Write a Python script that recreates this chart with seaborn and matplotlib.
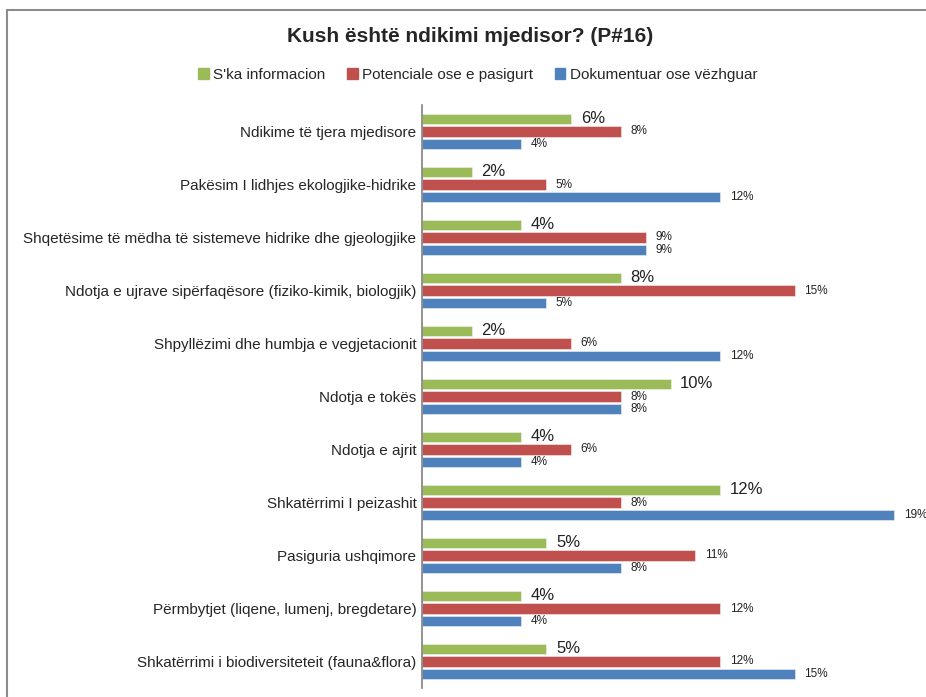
"""Grouped horizontal bars: environmental impact types (P#16)."""

import matplotlib.pyplot as plt
import pandas as pd
import seaborn as sns
from matplotlib.patches import Rectangle

CATEGORIES = [
    "Ndikime të tjera mjedisore",
    "Pakësim I lidhjes ekologjike-hidrike",
    "Shqetësime të mëdha të sistemeve hidrike dhe gjeologjike",
    "Ndotja e ujrave sipërfaqësore (fiziko-kimik, biologjik)",
    "Shpyllëzimi dhe humbja e vegjetacionit",
    "Ndotja e tokës",
    "Ndotja e ajrit",
    "Shkatërrimi I peizashit",
    "Pasiguria ushqimore",
    "Përmbytjet (liqene, lumenj, bregdetare)",
    "Shkatërrimi i biodiversiteteit (fauna&flora)",
]
SERIES = ["S'ka informacion", "Potenciale ose e pasigurt", "Dokumentuar ose vëzhguar"]
NO_INFO = [6, 2, 4, 8, 2, 10, 4, 12, 5, 4, 5]
POTENTIAL = [8, 5, 9, 15, 6, 8, 6, 8, 11, 12, 12]
DOCUMENTED = [4, 12, 9, 5, 12, 8, 4, 19, 8, 4, 15]
COLORS = ["#9BBB59", "#C0504D", "#4F81BD"]

sns.set_theme(style="white")
plt.rcParams["font.family"] = ["Liberation Sans", "DejaVu Sans"]

df = pd.DataFrame({
    "category": CATEGORIES * 3,
    "series": [s for s in SERIES for _ in CATEGORIES],
    "value": NO_INFO + POTENTIAL + DOCUMENTED,
})

fig = plt.figure(figsize=(9.26, 6.97), dpi=100)
ax = fig.add_axes([422 / 926, 1 - 688 / 697, 497 / 926, 583 / 697])

sns.barplot(data=df, y="category", x="value", hue="series", hue_order=SERIES,
            palette=COLORS, saturation=1, orient="h", width=0.72, gap=0.18, ax=ax,
            edgecolor="#f2f2f2", linewidth=0.4, legend=False)

ax.set_xlim(0, 20)
ax.set_ylim(10.5, -0.5)
ax.set_xlabel("")
ax.set_ylabel("")
ax.set_xticks([])
ax.tick_params(axis="y", length=0, pad=4, labelsize=11)
for side in ["top", "right", "bottom"]:
    ax.spines[side].set_visible(False)
ax.spines["left"].set_color("#808080")
ax.spines["left"].set_linewidth(1.2)

for i, cont in enumerate(ax.containers):
    size = 12 if i == 0 else 8.5
    labels = [f"{v:.0f}%" for v in cont.datavalues]
    ax.bar_label(cont, labels=labels, padding=7, fontsize=size, color="#222222")

handles = [Rectangle((0, 0), 1, 1, color=c) for c in COLORS]
fig.legend(handles, SERIES, loc="center", bbox_to_anchor=(0.516, 1 - 75 / 697), ncol=3,
           frameon=False, fontsize=11, handlelength=0.7, handleheight=0.7,
           handletextpad=0.3, columnspacing=1.4)

fig.text(0.508, 1 - 37 / 697, "Kush është ndikimi mjedisor? (P#16)", ha="center", va="center",
         fontsize=15, fontweight="bold")

fig.patches.append(Rectangle((7 / 926, -0.05), 1.1, 1 - 10 / 697 + 0.05, transform=fig.transFigure,
                             fill=False, edgecolor="#8c8c8c", linewidth=1.5))

fig.savefig("out.png", dpi=100)
